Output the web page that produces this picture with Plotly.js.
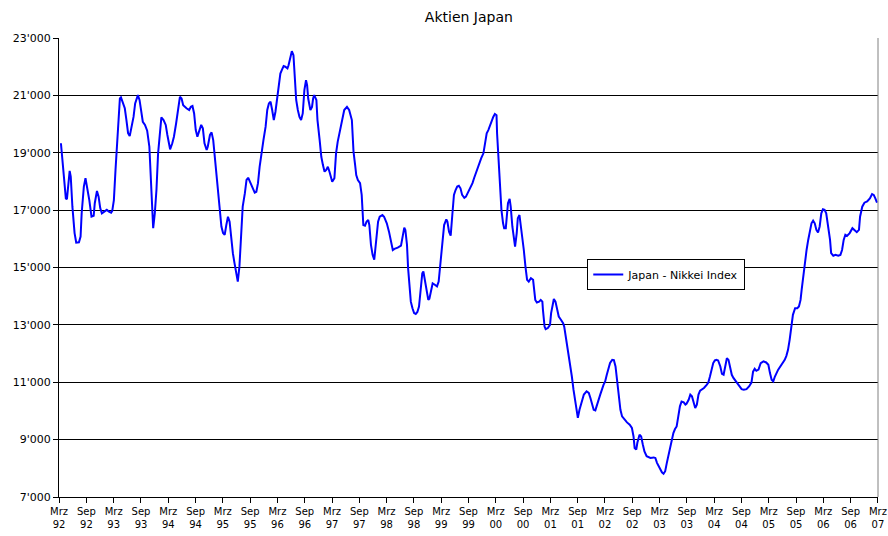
<!DOCTYPE html>
<html>
<head>
<meta charset="utf-8">
<script src="https://cdn.plot.ly/plotly-3.0.1.min.js"></script>
<style>
  html, body { margin: 0; padding: 0; background: #fff; }
  #chart { width: 888px; height: 536px; }
</style>
</head>
<body>
<div id="chart"></div>
<script>
// Nikkei (Zeit als Dezimaljahr)
const years = [
  1992.20,1992.25,1992.29,1992.31,1992.34,1992.36,1992.38,1992.41,1992.45,1992.48,
  1992.53,1992.56,1992.58,1992.62,1992.65,1992.68,1992.72,1992.76,1992.80,1992.82,
  1992.86,1992.89,1992.92,1992.95,1992.99,1993.04,1993.08,1993.12,1993.14,1993.17,
  1993.20,1993.23,1993.25,1993.28,1993.30,1993.34,1993.37,1993.40,1993.43,1993.46,
  1993.50,1993.53,1993.56,1993.61,1993.64,1993.67,1993.70,1993.74,1993.78,1993.82,
  1993.84,1993.85,1993.87,1993.88,1993.89,1993.92,1993.95,1993.98,1994.01,1994.04,
  1994.08,1994.12,1994.15,1994.18,1994.20,1994.24,1994.27,1994.31,1994.35,1994.38,
  1994.41,1994.44,1994.50,1994.55,1994.58,1994.61,1994.64,1994.67,1994.70,
  1994.74,1994.77,1994.80,1994.83,1994.87,1994.89,1994.93,1994.96,1994.99,1995.02,
  1995.05,1995.08,1995.11,1995.14,1995.17,1995.20,1995.23,1995.26,1995.29,1995.32,
  1995.35,1995.38,1995.41,1995.44,1995.47,1995.51,1995.53,1995.57,1995.60,1995.63,
  1995.66,1995.70,1995.75,1995.78,1995.81,1995.84,1995.87,1995.91,1995.95,1995.98,
  1996.01,1996.04,1996.07,1996.10,1996.13,1996.16,1996.19,1996.22,1996.25,1996.28,
  1996.31,1996.35,1996.37,1996.40,1996.43,1996.46,1996.48,1996.51,1996.54,1996.57,
  1996.60,1996.63,1996.66,1996.69,1996.71,1996.73,1996.77,1996.80,1996.82,1996.84,
  1996.88,1996.90,1996.94,1996.97,1997.00,1997.03,1997.06,1997.09,1997.12,1997.15,
  1997.17,
  1997.21,1997.24,1997.27,1997.30,1997.33,1997.36,1997.39,1997.44,1997.48,1997.53,
  1997.54,1997.56,1997.59,1997.61,1997.64,1997.68,1997.71,1997.73,1997.74,1997.77,
  1997.80,1997.83,1997.85,1997.88,1997.91,1997.94,1997.96,1997.99,1998.01,1998.04,
  1998.09,1998.12,1998.17,1998.21,1998.25,1998.28,1998.31,1998.37,1998.43,1998.46,
  1998.49,1998.51,1998.54,1998.56,1998.59,1998.61,1998.64,1998.67,1998.70,1998.73,
  1998.76,1998.79,1998.82,1998.84,1998.87,1998.90,1998.93,1998.95,1998.98,1999.01,
  1999.05,1999.09,1999.12,1999.15,1999.17,1999.20,1999.22,1999.26,1999.28,1999.31,
  1999.34,1999.37,1999.40,1999.43,1999.46,1999.49,1999.52,1999.55,1999.59,1999.62,
  1999.65,1999.68,1999.71,1999.74,
  1999.77,1999.80,1999.83,1999.86,1999.90,1999.94,1999.97,2000.00,2000.03,2000.06,
  2000.09,2000.12,2000.15,2000.18,2000.19,2000.21,2000.23,2000.26,2000.27,2000.30,
  2000.32,2000.35,2000.37,2000.39,2000.42,2000.44,2000.47,2000.50,2000.52,2000.55,
  2000.57,2000.60,2000.62,2000.65,2000.68,2000.71,2000.74,2000.77,2000.81,2000.85,
  2000.87,2000.89,2000.92,2000.96,2000.99,2001.02,2001.03,2001.06,2001.08,2001.12,
  2001.16,2001.18,2001.21,2001.23,2001.26,2001.29,2001.32,2001.36,2001.40,2001.42,
  2001.45,2001.47,2001.50,2001.53,2001.56,2001.59,2001.63,2001.66,2001.67,2001.70,
  2001.74,2001.78,2001.83,2001.87,2001.90,2001.93,2001.96,2001.99,2002.02,2002.05,
  2002.08,2002.14,2002.17,2002.20,2002.23,2002.26,2002.30,
  2002.33,2002.36,2002.39,2002.42,2002.45,2002.48,2002.52,2002.57,2002.62,2002.66,
  2002.69,2002.71,2002.74,2002.76,2002.80,2002.83,2002.86,2002.89,2002.93,2003.00,
  2003.06,2003.09,2003.12,2003.17,2003.21,2003.24,2003.27,2003.30,2003.33,2003.36,
  2003.39,2003.42,2003.45,2003.48,2003.51,2003.54,2003.57,2003.61,2003.64,2003.66,
  2003.70,2003.73,2003.76,2003.79,2003.82,2003.85,2003.88,2003.91,2003.94,2003.98,
  2004.03,2004.06,2004.09,2004.12,2004.15,2004.18,2004.21,2004.24,2004.28,2004.31,
  2004.34,2004.37,2004.40,2004.43,2004.46,2004.49,2004.52,2004.58,2004.63,2004.67,
  2004.71,2004.76,2004.81,2004.85,
  2004.88,2004.91,2004.94,2004.98,2005.02,2005.07,2005.12,2005.16,2005.19,2005.22,
  2005.25,2005.28,2005.34,2005.40,2005.46,2005.49,2005.52,2005.55,2005.58,2005.61,
  2005.65,2005.69,2005.72,2005.75,2005.77,2005.80,2005.83,2005.86,2005.89,2005.92,
  2005.95,2005.98,2006.01,2006.04,2006.07,2006.10,2006.13,2006.16,2006.19,2006.22,
  2006.25,2006.29,2006.31,2006.35,2006.39,2006.44,2006.48,2006.51,2006.54,2006.57,
  2006.60,2006.65,2006.70,2006.74,2006.78,2006.82,2006.84,2006.88,2006.92,2006.97,
  2007.02,2007.06,2007.09,2007.12,2007.15
];

const nikkei = [
  19330,18170,17410,17380,18050,18370,18170,17120,16200,15870,
  15880,16080,16890,17820,18110,17820,17350,16770,16800,17240,
  17670,17470,17070,16890,16950,17010,16950,16910,16970,17350,
  18400,19440,20250,20890,20930,20720,20550,20140,19680,19580,
  19910,20250,20720,21010,20840,20430,20080,19970,19770,19210,
  18400,17700,16770,16430,16370,16890,17700,18980,19790,20230,
  20140,19970,19620,19210,19120,19330,19560,20020,20550,20950,
  20890,20660,20550,20490,20600,20630,20370,19790,19560,
  19790,19970,19850,19330,19100,19210,19620,19710,19440,18860,
  18280,17590,16890,16430,16200,16140,16480,16770,16600,15960,
  15500,15150,14800,14510,15030,16310,17120,17590,18050,18130,
  17990,17820,17610,17640,17940,18510,18980,19440,19910,20490,
  20720,20780,20490,20140,20430,20950,21420,21760,21900,22020,
  22000,21940,22050,22340,22540,22400,21650,20840,20490,20250,
  20140,20370,21180,21530,21360,20890,20490,20600,20890,21010,
  20840,20140,19440,18860,18570,18340,18400,18510,18340,18110,
  17990,
  18110,18980,19380,19680,19850,20250,20490,20600,20490,20140,
  19620,19040,18570,18220,18050,17940,17530,16830,16480,16460,
  16600,16660,16480,15790,15440,15270,15670,16250,16600,16770,
  16830,16770,16540,16250,15900,15610,15650,15690,15760,16140,
  16390,16310,15790,14980,14280,13810,13580,13410,13380,13450,
  13640,14280,14800,14860,14510,14160,13870,13910,14220,14450,
  14400,14340,14510,15090,15440,16140,16480,16680,16600,16250,
  16110,16830,17530,17700,17820,17850,17760,17530,17430,17470,
  17590,17670,17820,17940,
  18120,18290,18470,18630,18810,18980,19330,19680,19790,19970,
  20080,20250,20350,20310,19680,18980,18170,17590,17010,16540,
  16370,16370,16770,17240,17390,17120,16430,15850,15730,16200,
  16720,16830,16540,16200,15610,15030,14570,14510,14630,14570,
  14220,13870,13780,13810,13870,13810,13530,12940,12850,12890,
  13000,13410,13700,13900,13810,13530,13290,13180,13060,12940,
  12600,12250,11900,11550,11200,10740,10280,9810,9760,10040,
  10330,10570,10680,10630,10450,10220,10040,10020,10220,10390,
  10570,10910,11030,11260,11440,11670,11780,
  11770,11550,10970,10460,10040,9810,9700,9600,9520,9410,
  9110,8710,8650,8890,9170,9110,8830,8590,8420,8360,
  8380,8360,8190,8010,7860,7810,7900,8190,8480,8770,
  9000,9230,9370,9460,9810,10160,10330,10300,10220,10250,
  10390,10570,10510,10330,10100,10220,10570,10710,10740,10800,
  10910,10990,11200,11500,11670,11760,11780,11760,11550,11290,
  11260,11550,11840,11780,11500,11260,11150,10990,10860,10760,
  10740,10760,10860,10990,
  11370,11470,11400,11440,11670,11730,11690,11610,11320,11090,
  11030,11200,11440,11610,11780,11920,12130,12480,12940,13350,
  13580,13580,13640,13870,14220,14680,15270,15610,15960,16310,
  16540,16630,16540,16310,16220,16430,16890,17030,17010,16890,
  16540,15960,15500,15410,15440,15410,15440,15610,15960,16140,
  16100,16200,16370,16310,16230,16310,16770,17120,17260,17300,
  17410,17560,17530,17410,17260
];

const xTickLabels = [
  'Mrz<br>92','Sep<br>92','Mrz<br>93','Sep<br>93','Mrz<br>94','Sep<br>94',
  'Mrz<br>95','Sep<br>95','Mrz<br>96','Sep<br>96','Mrz<br>97','Sep<br>97',
  'Mrz<br>98','Sep<br>98','Mrz<br>99','Sep<br>99','Mrz<br>00','Sep<br>00',
  'Mrz<br>01','Sep<br>01','Mrz<br>02','Sep<br>02','Mrz<br>03','Sep<br>03',
  'Mrz<br>04','Sep<br>04','Mrz<br>05','Sep<br>05','Mrz<br>06','Sep<br>06',
  'Mrz<br>07'
];
const yTickVals = [7000, 9000, 11000, 13000, 15000, 17000, 19000, 21000, 23000];
const yTickLabels = ["7'000", "9'000", "11'000", "13'000", "15'000", "17'000", "19'000", "21'000", "23'000"];

// Ticks alle 6 Monate ab März 1992
const xStart = 1992 + 2 / 12;
const xTickVals = xTickLabels.map((_, i) => xStart + i * 0.5);

const fam = 'DejaVu Sans, Verdana, sans-serif';
const font = { family: fam, size: 11, color: '#000' };

const trace = {
  x: years,
  y: nikkei,
  mode: 'lines',
  name: 'Japan - Nikkei Index',
  line: { color: '#0000ff', width: 2 }
};

const layout = {
  width: 888,
  height: 536,
  margin: { l: 59, r: 10, t: 38, b: 39 },
  paper_bgcolor: '#fff',
  plot_bgcolor: '#fff',
  font: font,
  title: {
    text: 'Aktien Japan',
    font: { family: fam, size: 14, color: '#000' },
    x: 0.528, xanchor: 'center',
    y: 0.968, yanchor: 'middle'
  },
  showlegend: true,
  legend: {
    x: 0.645, y: 0.5185, xanchor: 'left', yanchor: 'top',
    bgcolor: '#fff', bordercolor: '#000', borderwidth: 1,
    font: font
  },
  xaxis: {
    range: [xStart - 0.002, xStart + 15.002],
    tickvals: xTickVals,
    ticktext: xTickLabels,
    tickangle: 0,
    ticklabeloverflow: 'allow', // sonst fehlt "Mrz 07" am rechten Rand
    ticks: 'outside', ticklen: 5, tickcolor: '#000',
    showline: true, linecolor: '#000', linewidth: 1,
    showgrid: false, zeroline: false,
    tickfont: { family: fam, size: 10, color: '#000' }
  },
  yaxis: {
    range: [7000, 23000],
    tickvals: yTickVals,
    ticktext: yTickLabels,
    ticks: 'outside', ticklen: 5, tickcolor: '#000',
    showline: true, linecolor: '#000', linewidth: 1,
    showgrid: true, gridcolor: '#000', gridwidth: 1,
    zeroline: false,
    tickfont: font
  },
  shapes: [{
    type: 'line', xref: 'paper', yref: 'paper',
    x0: 1, x1: 1, y0: 0, y1: 1,
    line: { color: '#808080', width: 1 }
  }]
};

Plotly.newPlot('chart', [trace], layout, { displayModeBar: false, staticPlot: true });
</script>
</body>
</html>
